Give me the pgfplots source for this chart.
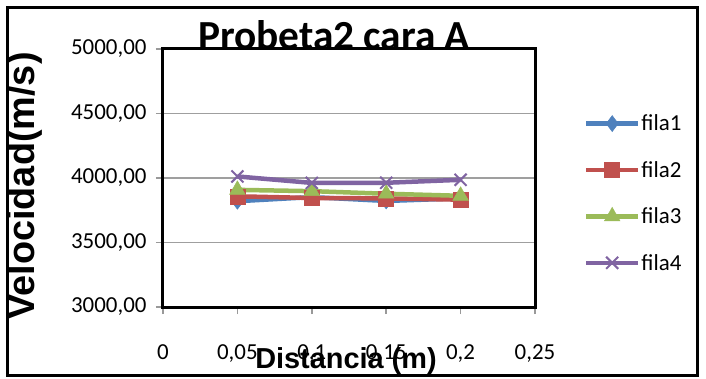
\documentclass[border=0pt]{standalone}
\usepackage{fontspec}
\setmainfont{Carlito}
\newfontfamily\arialfont{Liberation Sans}
\usepackage{pgfplots}
\pgfplotsset{compat=1.18}
\definecolor{s1}{HTML}{4F81BD}
\definecolor{s2}{HTML}{C0504D}
\definecolor{s3}{HTML}{9BBB59}
\definecolor{s4}{HTML}{8064A2}
\begin{document}
\begin{tikzpicture}
\begin{axis}[name=ax,
  scale only axis, width=372bp, height=258bp,
  xmin=0, xmax=0.25, ymin=3000, ymax=5000,
  xtick={0,0.05,0.1,0.15,0.2,0.25},
  ytick={3000,3500,4000,4500,5000},
  axis line style={draw=black, line width=3bp},
  ymajorgrids, grid style={draw=gray!75, line width=1.5bp},
  tick style={draw=gray!80, line width=1.5bp},
  tick align=outside, major tick length=7bp,
  xtick pos=bottom, ytick pos=left,
  /pgf/number format/assume math mode=true,
  ticklabel style={font=\fontsize{23}{27}\selectfont},
  xticklabel style={/pgf/number format/.cd, use comma, fixed, precision=2, /tikz/.cd, yshift=-27bp},
  yticklabel style={/pgf/number format/.cd, use comma, fixed, fixed zerofill, precision=2, 1000 sep={}, /tikz/.cd, xshift=-6bp},
  legend style={draw=none, fill=none, at={(1.123,0.757)}, anchor=north west,
    font=\fontsize{23}{27}\selectfont, row sep=27bp, nodes={inner sep=1bp}},
  legend cell align=left,
  legend image code/.code={\draw[mark repeat=2,mark phase=2] plot coordinates {(0bp,0bp)(26bp,0bp)(52bp,0bp)};},
  every axis plot/.append style={line width=4.5bp},
  clip=false,
]
\addplot[color=s1, mark=diamond*, mark size=8bp, mark options={line width=0.5bp}] coordinates {(0.05,3820) (0.1,3852) (0.15,3822) (0.2,3842)};
\addlegendentry{fila1}
\addplot[color=s2, mark=square*, mark size=7.5bp, mark options={line width=0.5bp}] coordinates {(0.05,3858) (0.1,3845) (0.15,3842) (0.2,3832)};
\addlegendentry{fila2}
\addplot[color=s3, mark=triangle*, mark size=9bp, mark options={line width=0.5bp}] coordinates {(0.05,3908) (0.1,3898) (0.15,3878) (0.2,3862)};
\addlegendentry{fila3}
\addplot[color=s4, mark=x, mark size=8.5bp, mark options={line width=2bp}] coordinates {(0.05,4012) (0.1,3962) (0.15,3963) (0.2,3986)};
\addlegendentry{fila4}
\end{axis}
\path[use as bounding box] ([shift={(-163bp,-72bp)}]ax.south west) rectangle ([shift={(543bp,307bp)}]ax.south west);
\draw[line width=3bp] ([shift={(-155bp,-68bp)}]ax.south west) rectangle ([shift={(534bp,299bp)}]ax.south west);
\node[anchor=base, font=\fontsize{41.5}{44}\bfseries, inner sep=0pt] at ([shift={(171bp,257bp)}]ax.south west) {Probeta2 cara A};
\node[anchor=base, font=\arialfont\fontsize{29}{32}\bfseries, inner sep=0pt] at ([shift={(183bp,-61bp)}]ax.south west) {Distancia (m)};
\node[anchor=center, rotate=90, font=\arialfont\fontsize{38}{40}\bfseries, inner sep=0pt] at ([shift={(-138bp,121bp)}]ax.south west) {Velocidad(m/s)};
\end{tikzpicture}
\end{document}
